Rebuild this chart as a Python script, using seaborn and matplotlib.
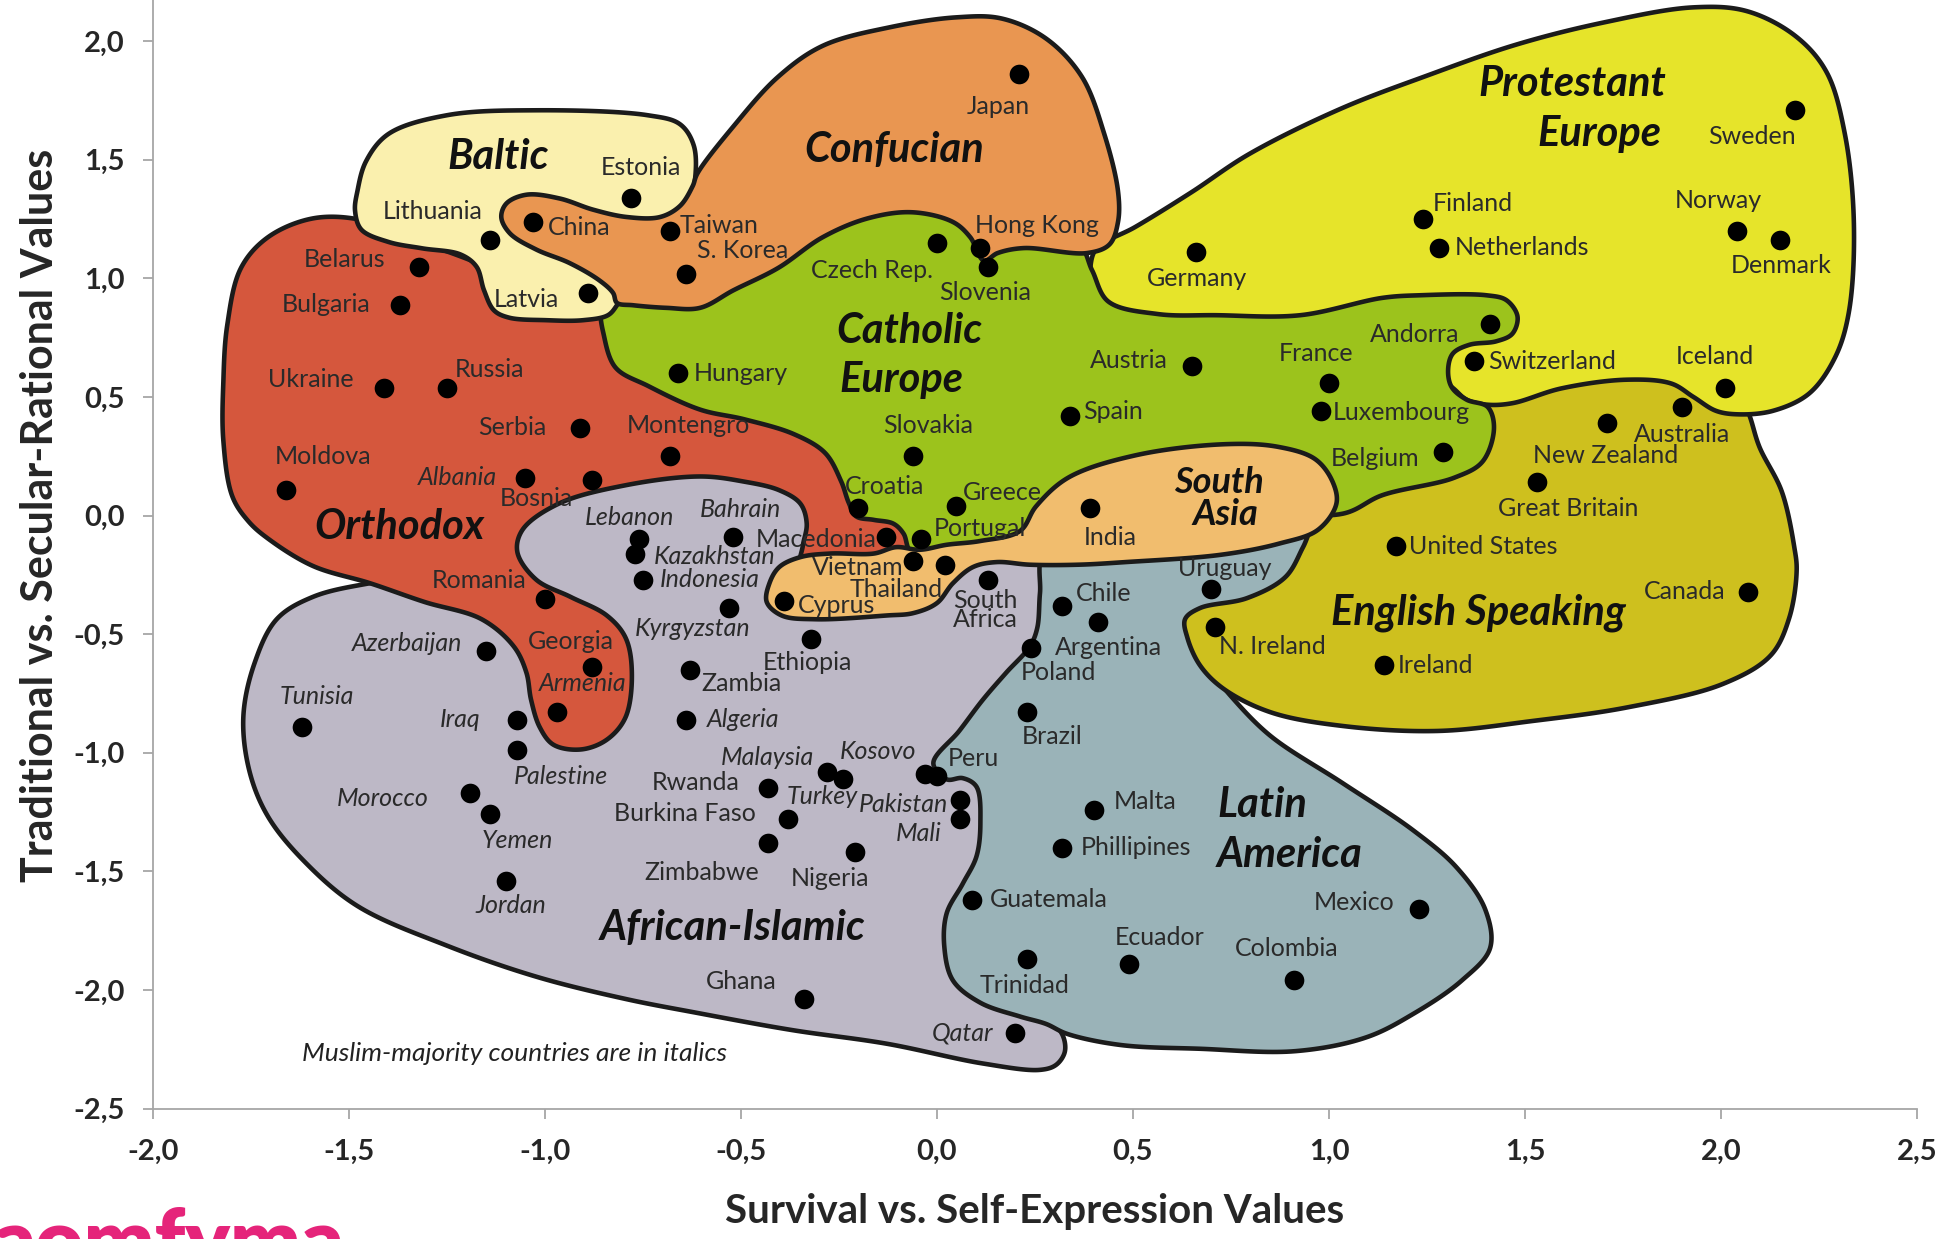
import numpy as np
import pandas as pd
import matplotlib
matplotlib.use("Agg")
import matplotlib.pyplot as plt
import seaborn as sns

# ---------------- data ----------------
countries = ["Japan", "Sweden", "Estonia", "Lithuania", "China", "Taiwan", "S. Korea", "Belarus",
             "Bulgaria", "Latvia", "Czech Rep.", "Hong Kong", "Slovenia", "Germany", "Finland",
             "Netherlands", "Norway", "Denmark", "Ukraine", "Russia", "Hungary", "Austria", "France",
             "Luxembourg", "Andorra", "Switzerland", "Iceland", "Australia", "New Zealand",
             "Great Britain", "United States", "Canada", "Ireland", "N. Ireland", "Uruguay", "Belgium",
             "Spain", "Slovakia", "Serbia", "Montengro", "Moldova", "Albania", "Bosnia", "Croatia",
             "Greece", "Portugal", "Macedonia", "India", "Lebanon", "Kazakhstan", "Bahrain",
             "Indonesia", "Vietnam", "Thailand", "Cyprus", "Kyrgyzstan", "South\nAfrica", "Chile",
             "Argentina", "Poland", "Romania", "Georgia", "Armenia", "Azerbaijan", "Ethiopia",
             "Zambia", "Algeria", "Tunisia", "Iraq", "Palestine", "Morocco", "Yemen", "Jordan",
             "Brazil", "Malaysia", "Turkey", "Kosovo", "Peru", "Pakistan", "Mali", "Rwanda",
             "Burkina Faso", "Zimbabwe", "Nigeria", "Malta", "Phillipines", "Guatemala", "Trinidad",
             "Ecuador", "Colombia", "Mexico", "Ghana", "Qatar"]
survival_self_expression = [0.21, 2.19, -0.78, -1.14, -1.03, -0.68, -0.64, -1.32,
                            -1.37, -0.89, 0.00, 0.11, 0.13, 0.66, 1.24,
                            1.28, 2.04, 2.15, -1.41, -1.25, -0.66, 0.65, 1.00,
                            0.98, 1.41, 1.37, 2.01, 1.90, 1.71,
                            1.53, 1.17, 2.07, 1.14, 0.71, 0.70, 1.29,
                            0.34, -0.06, -0.91, -0.68, -1.66, -1.05, -0.88, -0.20,
                            0.05, -0.04, -0.13, 0.39, -0.76, -0.77, -0.52,
                            -0.75, -0.06, 0.02, -0.39, -0.53, 0.13, 0.32,
                            0.41, 0.24, -1.00, -0.88, -0.97, -1.15, -0.32,
                            -0.63, -0.64, -1.62, -1.07, -1.07, -1.19, -1.14, -1.10,
                            0.23, -0.28, -0.24, -0.03, 0.00, 0.06, 0.06, -0.43,
                            -0.38, -0.43, -0.21, 0.40, 0.32, 0.09, 0.23,
                            0.49, 0.91, 1.23, -0.34, 0.20]
traditional_secular = [1.86, 1.71, 1.34, 1.16, 1.24, 1.20, 1.02, 1.05,
                       0.89, 0.94, 1.15, 1.13, 1.05, 1.11, 1.25,
                       1.13, 1.20, 1.16, 0.54, 0.54, 0.60, 0.63, 0.56,
                       0.44, 0.81, 0.65, 0.54, 0.46, 0.39,
                       0.14, -0.13, -0.32, -0.63, -0.47, -0.31, 0.27,
                       0.42, 0.25, 0.37, 0.25, 0.11, 0.16, 0.15, 0.03,
                       0.04, -0.10, -0.09, 0.03, -0.10, -0.16, -0.09,
                       -0.27, -0.19, -0.21, -0.36, -0.39, -0.27, -0.38,
                       -0.45, -0.56, -0.35, -0.64, -0.83, -0.57, -0.52,
                       -0.65, -0.86, -0.89, -0.86, -0.99, -1.17, -1.26, -1.54,
                       -0.83, -1.08, -1.11, -1.09, -1.10, -1.20, -1.28, -1.15,
                       -1.28, -1.38, -1.42, -1.24, -1.40, -1.62, -1.87,
                       -1.89, -1.96, -1.66, -2.04, -2.18]
muslim_majority = {"Albania", "Lebanon", "Kazakhstan", "Bahrain", "Indonesia", "Kyrgyzstan",
                   "Armenia", "Azerbaijan", "Algeria", "Tunisia", "Iraq", "Palestine", "Morocco",
                   "Yemen", "Jordan", "Malaysia", "Turkey", "Kosovo", "Pakistan", "Mali", "Qatar"}

# label placement (offset in points from the dot, label centred)
label_offsets = {
    "Japan": (-15, -23), "Sweden": (-31, -19), "Estonia": (7, 22), "Lithuania": (-41, 21),
    "China": (33, -4), "Taiwan": (35, 4), "S. Korea": (41, 17), "Belarus": (-54, 5),
    "Bulgaria": (-53, 0), "Latvia": (-44, -5), "Czech Rep.": (-47, -20), "Hong Kong": (41, 16),
    "Slovenia": (-2, -19), "Germany": (1, -19), "Finland": (36, 11), "Netherlands": (60, 0),
    "Norway": (-13, 22), "Denmark": (1, -18), "Ukraine": (-53, 6), "Russia": (31, 13),
    "Hungary": (45, 0), "Austria": (-45, 4), "France": (-9, 21), "Luxembourg": (58, -1),
    "Andorra": (-54, -8), "Switzerland": (56, 0), "Iceland": (-7, 22), "Australia": (0, -20),
    "New Zealand": (-1, -23), "Great Britain": (23, -19), "United States": (63, 0),
    "Canada": (-46, 0), "Ireland": (37, 0), "N. Ireland": (41, -14), "Uruguay": (10, 15),
    "Belgium": (-49, -5), "Spain": (31, 3), "Slovakia": (11, 22), "Serbia": (-49, 0),
    "Montengro": (13, 22), "Moldova": (27, 24), "Albania": (-49, 0), "Bosnia": (-40, -13),
    "Croatia": (19, 16), "Greece": (33, 10), "Portugal": (42, 8), "Macedonia": (-50, -2),
    "India": (15, -21), "Lebanon": (-7, 16), "Kazakhstan": (57, -2), "Bahrain": (5, 20),
    "Indonesia": (48, 0), "Vietnam": (-40, -5), "Thailand": (-35, -17), "Cyprus": (38, -3),
    "Kyrgyzstan": (-26, -15), "South\nAfrica": (-2, -22), "Chile": (30, 9),
    "Argentina": (8, -18), "Poland": (20, -17), "Romania": (-47, 13), "Georgia": (-15, 19),
    "Armenia": (19, 21), "Azerbaijan": (-57, 5), "Ethiopia": (-3, -17), "Zambia": (37, -10),
    "Algeria": (41, 0), "Tunisia": (11, 22), "Iraq": (-41, 0), "Palestine": (31, -19),
    "Morocco": (-63, -4), "Yemen": (20, -19), "Jordan": (4, -18), "Brazil": (18, -17),
    "Malaysia": (-43, 10), "Turkey": (-15, -13), "Kosovo": (-34, 16), "Peru": (26, 13),
    "Pakistan": (-41, -3), "Mali": (-30, -10), "Rwanda": (-52, 4), "Burkina Faso": (-74, 4),
    "Zimbabwe": (-48, -21), "Nigeria": (-18, -19), "Malta": (37, 6), "Phillipines": (53, 0),
    "Guatemala": (55, 0), "Trinidad": (-2, -19), "Ecuador": (22, 19), "Colombia": (-5, 23),
    "Mexico": (-47, 5), "Ghana": (-45, 13), "Qatar": (-38, 0),
}

# cultural zone outlines (data units, smoothed below)
african_islamic_outline = [(-1.446, -0.285), (-1.250, -0.243), (-1.123, -0.128), (-1.092, -0.024),
    (-0.997, 0.107), (-0.807, 0.186), (-0.604, 0.212), (-0.491, 0.196), (-0.364, 0.133),
    (-0.301, -0.076), (-0.174, -0.154), (0.016, -0.181), (0.142, -0.191), (0.285, -0.170),
    (0.301, -0.285), (0.285, -0.547), (0.190, -0.756), (0.111, -1.018), (0.142, -1.227),
    (0.127, -1.489), (0.127, -1.907), (0.237, -2.090), (0.301, -2.148), (0.323, -2.200),
    (0.326, -2.263), (0.304, -2.316), (0.263, -2.337), (0.117, -2.310), (-0.127, -2.227),
    (-0.370, -2.169), (-0.614, -2.096), (-0.794, -2.038), (-1.022, -1.944), (-1.250, -1.813),
    (-1.478, -1.646), (-1.614, -1.457), (-1.706, -1.269), (-1.753, -1.080), (-1.769, -0.850),
    (-1.741, -0.625), (-1.684, -0.437), (-1.592, -0.343)]
latin_america_outline = [(0.275, -0.154), (0.481, -0.128), (0.725, -0.086), (0.873, -0.050),
    (0.997, -0.065), (0.918, -0.222), (0.807, -0.364), (0.696, -0.416), (0.665, -0.453),
    (0.674, -0.515), (0.687, -0.610), (0.718, -0.694), (0.753, -0.767), (0.851, -0.929),
    (1.035, -1.128), (1.215, -1.327), (1.326, -1.484), (1.399, -1.662),
    (1.411, -1.824), (1.339, -1.960), (1.215, -2.101), (1.095, -2.200), (0.915, -2.258),
    (0.671, -2.248), (0.468, -2.232), (0.332, -2.185), (0.278, -2.143), (0.212, -2.112),
    (0.111, -2.054), (0.041, -1.960), (0.019, -1.818), (0.025, -1.677), (0.066, -1.552),
    (0.101, -1.437), (0.111, -1.295), (0.101, -1.143), (0.066, -1.107), (0.025, -1.112),
    (-0.009, -1.044), (0.057, -0.908), (0.117, -0.777), (0.177, -0.662), (0.237, -0.552),
    (0.256, -0.474), (0.263, -0.327)]
english_speaking_outline = [(1.345, 0.631), (1.725, 0.631), (2.041, 0.552), (2.073, 0.421),
    (2.098, 0.290), (2.155, 0.102), (2.187, -0.133), (2.193, -0.233), (2.174, -0.432),
    (2.127, -0.589), (2.006, -0.709), (1.763, -0.808), (1.519, -0.866), (1.278, -0.908),
    (1.035, -0.887), (0.851, -0.829), (0.731, -0.730), (0.671, -0.631), (0.639, -0.515),
    (0.633, -0.437), (0.671, -0.390), (0.791, -0.348), (0.889, -0.259), (0.934, -0.133),
    (0.965, -0.024), (1.028, 0.055), (1.218, 0.160), (1.345, 0.238), (1.392, 0.395)]
protestant_outline = [(0.392, 1.054), (0.408, 1.128), (0.506, 1.217), (0.649, 1.363),
    (0.797, 1.525), (1.028, 1.714), (1.250, 1.855), (1.478, 1.986), (1.703, 2.080),
    (1.930, 2.143), (2.066, 2.127), (2.190, 2.022), (2.269, 1.871), (2.316, 1.609),
    (2.339, 1.232), (2.326, 0.856), (2.291, 0.667), (2.225, 0.515), (2.133, 0.442),
    (2.044, 0.427), (1.987, 0.442), (1.930, 0.500), (1.873, 0.557), (1.759, 0.573),
    (1.592, 0.536), (1.468, 0.474), (1.402, 0.468), (1.351, 0.489), (1.313, 0.542),
    (1.250, 0.604), (1.092, 0.683), (0.775, 0.803), (0.554, 0.803), (0.437, 0.866),
    (0.396, 0.970)]
orthodox_outline = [(-1.706, 1.174), (-1.592, 1.253), (-1.472, 1.248), (-1.345, 1.170),
    (-1.187, 1.075), (-1.060, 0.981), (-0.902, 0.918), (-0.839, 0.866), (-0.823, 0.772),
    (-0.744, 0.631), (-0.585, 0.510), (-0.427, 0.421), (-0.301, 0.332), (-0.237, 0.160),
    (-0.190, 0.029), (-0.111, 0.003), (-0.054, -0.065), (-0.060, -0.160), (-0.111, -0.207),
    (-0.269, -0.233), (-0.348, -0.223), (-0.342, -0.128), (-0.332, -0.034), (-0.348, 0.050),
    (-0.402, 0.107), (-0.494, 0.144), (-0.604, 0.165), (-0.794, 0.128), (-0.965, 0.050),
    (-1.057, -0.060), (-1.070, -0.154), (-1.022, -0.270), (-0.934, -0.343), (-0.842, -0.421),
    (-0.794, -0.515), (-0.778, -0.662), (-0.794, -0.850), (-0.842, -0.945), (-0.908, -0.986),
    (-0.978, -0.966), (-1.013, -0.892), (-1.035, -0.777), (-1.047, -0.662), (-1.079, -0.552),
    (-1.161, -0.437), (-1.307, -0.364), (-1.446, -0.285), (-1.592, -0.212), (-1.706, -0.097),
    (-1.756, -0.024), (-1.797, 0.081), (-1.820, 0.317), (-1.820, 0.562), (-1.810, 0.803),
    (-1.775, 1.044)]
catholic_outline = [(-0.848, 0.939), (-0.680, 0.939), (-0.522, 1.002), (-0.411, 1.096),
    (-0.301, 1.217), (-0.174, 1.306), (-0.047, 1.332), (0.063, 1.269), (0.111, 1.164),
    (0.142, 1.138), (0.237, 1.170), (0.364, 1.138), (0.396, 1.034), (0.437, 0.903),
    (0.563, 0.850), (0.712, 0.845), (0.927, 0.845), (1.136, 0.918), (1.231, 0.929),
    (1.402, 0.929), (1.453, 0.908), (1.481, 0.840), (1.468, 0.767), (1.427, 0.735),
    (1.358, 0.720), (1.316, 0.683), (1.304, 0.615), (1.313, 0.542), (1.351, 0.489),
    (1.405, 0.458), (1.421, 0.369), (1.392, 0.228), (1.320, 0.160), (1.136, 0.086),
    (1.035, 0.008), (0.775, 0.018), (0.459, -0.050), (0.237, -0.128), (0.016, -0.181),
    (-0.066, -0.154), (-0.085, -0.076), (-0.111, -0.034), (-0.161, -0.018), (-0.206, -0.003),
    (-0.225, 0.055), (-0.244, 0.144), (-0.285, 0.264), (-0.364, 0.343), (-0.491, 0.406),
    (-0.604, 0.447), (-0.737, 0.547), (-0.820, 0.625), (-0.851, 0.772), (-0.858, 0.866)]
south_asia_outline = [(0.870, 0.290), (0.734, 0.301), (0.506, 0.254), (0.335, 0.160),
    (0.253, 0.039), (0.212, -0.065), (0.111, -0.107), (0.025, -0.123), (-0.044, -0.144),
    (-0.104, -0.133), (-0.161, -0.160), (-0.272, -0.160), (-0.348, -0.175), (-0.402, -0.217),
    (-0.427, -0.285), (-0.434, -0.364), (-0.396, -0.421), (-0.310, -0.437), (-0.127, -0.421),
    (-0.060, -0.411), (0.000, -0.369), (0.041, -0.285), (0.092, -0.217), (0.152, -0.196),
    (0.237, -0.207), (0.361, -0.207), (0.481, -0.196), (0.725, -0.165), (0.873, -0.118),
    (0.972, -0.060), (1.019, 0.050), (1.009, 0.144), (0.965, 0.238)]
baltic_outline = [(-1.478, 1.368), (-1.456, 1.494), (-1.399, 1.609), (-1.250, 1.688),
    (-1.022, 1.709), (-0.737, 1.688), (-0.655, 1.650), (-0.620, 1.560), (-0.617, 1.415),
    (-0.633, 1.311), (-0.706, 1.248), (-0.807, 1.180), (-0.823, 1.049), (-0.797, 0.944),
    (-0.816, 0.887), (-0.839, 0.845), (-0.902, 0.824), (-0.997, 0.824), (-1.092, 0.835),
    (-1.130, 0.866), (-1.155, 0.950), (-1.174, 1.049), (-1.215, 1.101), (-1.313, 1.127),
    (-1.399, 1.154), (-1.468, 1.206), (-1.484, 1.285)]
confucian_outline = [(-0.611, 1.442), (-0.519, 1.641), (-0.405, 1.850), (-0.291, 1.981),
    (-0.120, 2.059), (0.051, 2.101), (0.165, 2.096), (0.278, 2.012), (0.370, 1.850),
    (0.427, 1.609), (0.462, 1.368), (0.462, 1.238), (0.440, 1.143), (0.383, 1.107),
    (0.222, 1.128), (0.155, 1.107), (0.120, 1.075), (0.085, 1.174), (0.041, 1.238),
    (-0.063, 1.279), (-0.177, 1.253), (-0.291, 1.174), (-0.405, 1.044), (-0.519, 0.950),
    (-0.604, 0.876), (-0.690, 0.876), (-0.775, 0.887), (-0.816, 0.897), (-0.826, 0.939),
    (-0.861, 0.992), (-0.937, 1.065), (-1.022, 1.122), (-1.089, 1.190), (-1.111, 1.258),
    (-1.098, 1.316), (-1.047, 1.353), (-0.962, 1.337), (-0.877, 1.290), (-0.791, 1.259),
    (-0.706, 1.259), (-0.655, 1.306), (-0.623, 1.389)]

zone_outlines = [african_islamic_outline, latin_america_outline, english_speaking_outline,
                 protestant_outline, orthodox_outline, catholic_outline, south_asia_outline,
                 baltic_outline, confucian_outline]
zone_colors = ["#BDB8C6", "#9AB3B8", "#CEC01E", "#E6E42A", "#D5573D", "#9CC31C", "#F1BD6E",
               "#FAF0AE", "#E99651"]

region_labels = [("Protestant", 1.62, 1.82, 30), ("Europe", 1.69, 1.61, 30),
                 ("Confucian", -0.11, 1.54, 30), ("Baltic", -1.12, 1.51, 30),
                 ("Catholic", -0.07, 0.78, 30), ("Europe", -0.09, 0.57, 30),
                 ("Orthodox", -1.37, -0.05, 30), ("South", 0.72, 0.14, 26), ("Asia", 0.735, 0.005, 26),
                 ("English Speaking", 1.38, -0.41, 30), ("Latin", 0.83, -1.22, 30),
                 ("America", 0.90, -1.43, 30), ("African-Islamic", -0.52, -1.74, 30)]

x_ticks = [-2.0, -1.5, -1.0, -0.5, 0.0, 0.5, 1.0, 1.5, 2.0, 2.5]
y_ticks = [-2.5, -2.0, -1.5, -1.0, -0.5, 0.0, 0.5, 1.0, 1.5, 2.0]


# ---------------- helpers ----------------
def smooth_closed(pts, n=20, yscale=0.605):
    """Closed centripetal Catmull-Rom curve through the outline points."""
    P = np.asarray(pts, float) * np.array([1.0, yscale])
    m = len(P)
    segs = []
    for i in range(m):
        p0, p1, p2, p3 = P[(i - 1) % m], P[i], P[(i + 1) % m], P[(i + 2) % m]
        t0 = 0.0
        t1 = t0 + max(np.hypot(*(p1 - p0)), 1e-6) ** 0.5
        t2 = t1 + max(np.hypot(*(p2 - p1)), 1e-6) ** 0.5
        t3 = t2 + max(np.hypot(*(p3 - p2)), 1e-6) ** 0.5
        t = np.linspace(t1, t2, n, endpoint=False)[:, None]
        A1 = (t1 - t) / (t1 - t0) * p0 + (t - t0) / (t1 - t0) * p1
        A2 = (t2 - t) / (t2 - t1) * p1 + (t - t1) / (t2 - t1) * p2
        A3 = (t3 - t) / (t3 - t2) * p2 + (t - t2) / (t3 - t2) * p3
        B1 = (t2 - t) / (t2 - t0) * A1 + (t - t0) / (t2 - t0) * A2
        B2 = (t3 - t) / (t3 - t1) * A2 + (t - t1) / (t3 - t1) * A3
        segs.append((t2 - t) / (t2 - t1) * B1 + (t - t1) / (t2 - t1) * B2)
    C = np.vstack(segs)
    return C[:, 0], C[:, 1] / yscale


def comma(v):
    return f"{v:.1f}".replace(".", ",")


# ---------------- plot ----------------
sns.set_theme(style="ticks")
plt.rcParams["font.family"] = ["Lato", "DejaVu Sans"]

fig = plt.figure(figsize=(19.46, 12.39), dpi=100)
ax = fig.add_axes([0.0785, 0.1053, 0.9066, 0.8947])

for z, (outline, col) in enumerate(zip(zone_outlines, zone_colors)):
    xs, ys = smooth_closed(outline)
    ax.fill(xs, ys, facecolor=col, edgecolor="#1b1b1b", linewidth=3.3,
            joinstyle="round", zorder=2 + z)

df = pd.DataFrame({"country": countries, "x": survival_self_expression, "y": traditional_secular})
sns.scatterplot(data=df, x="x", y="y", ax=ax, color="black", s=200, linewidth=0,
                zorder=30, legend=False)

for name, xv, yv in zip(countries, survival_self_expression, traditional_secular):
    dx, dy = label_offsets[name]
    ax.annotate(name, (xv, yv), xytext=(dx, dy), textcoords="offset points",
                ha="center", va="center", fontsize=18, linespacing=0.8,
                fontstyle="italic" if name in muslim_majority else "normal",
                color="#2a2a2a", zorder=40)

for txt, xv, yv, fs in region_labels:
    ax.text(xv, yv, txt, ha="center", va="center", fontsize=fs, fontweight="bold",
            fontstyle="italic", color="#111111", zorder=41)

ax.text(-1.62, -2.27, "Muslim-majority countries are in italics", ha="left", va="center",
        fontsize=19, fontstyle="italic", color="#222222", zorder=41)

ax.set_xlim(-2.0, 2.5)
ax.set_ylim(-2.5, 2.174)
ax.set_xticks(x_ticks, labels=[comma(v) for v in x_ticks], fontweight="bold", fontsize=21)
ax.set_yticks(y_ticks, labels=[comma(v) for v in y_ticks], fontweight="bold", fontsize=21)
ax.tick_params(axis="x", direction="out", length=7, width=1.3, color="#A6A6A6", pad=15)
ax.tick_params(axis="y", direction="out", length=7, width=1.3, color="#A6A6A6", pad=13)
for side in ["top", "right"]:
    ax.spines[side].set_visible(False)
for side in ["left", "bottom"]:
    ax.spines[side].set_color("#A6A6A6")
    ax.spines[side].set_linewidth(1.3)

ax.set_xlabel("Survival vs. Self-Expression Values", fontsize=29, fontweight="bold")
ax.set_ylabel("Traditional vs. Secular-Rational Values", fontsize=31, fontweight="bold")
ax.xaxis.set_label_coords(0.5, -0.0925)
ax.xaxis.label.set_va("center")
ax.yaxis.set_label_coords(-0.0639, 0.5354)
ax.yaxis.label.set_va("center")

fig.text(-0.004, -0.024, "aomfyma", color="#E5247A", fontsize=60, fontweight="heavy",
         ha="left", va="baseline")

fig.savefig("out.png", dpi=100)
